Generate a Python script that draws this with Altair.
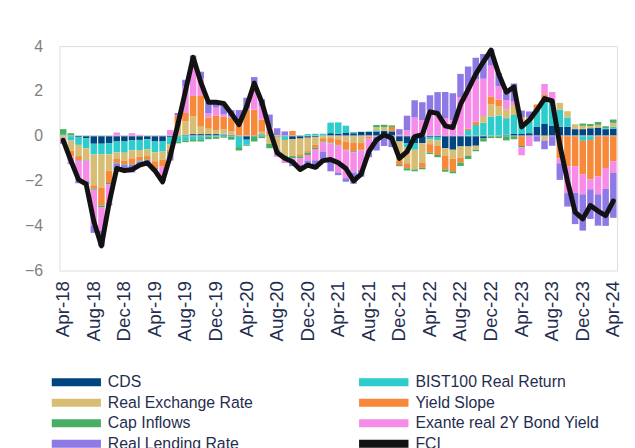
import altair as alt
import pandas as pd

# ---------------- data ----------------
mon_names = ["Jan", "Feb", "Mar", "Apr", "May", "Jun", "Jul", "Aug", "Sep", "Oct", "Nov", "Dec"]
months = [f"{mon_names[(3 + k) % 12]}-{18 + (3 + k) // 12}" for k in range(73)]  # Apr-18 .. Apr-24
tick_labels = months[::4]

series = ["CDS", "BIST100 Real Return", "Real Exchange Rate", "Yield Slope",
          "Cap Inflows", "Exante real 2Y Bond Yield", "Real Lending Rate"]
colors = ["#004481", "#2DCCCD", "#D8BE75", "#F7893B", "#48AE64", "#F78BE8", "#8F7AE5"]
fci_name = "FCI"
fci_color = "#121212"
# legend reading order (filled column by column: left column, then right column)
legend_order = ["CDS", "Real Exchange Rate", "Cap Inflows", "Real Lending Rate",
                "BIST100 Real Return", "Yield Slope", "Exante real 2Y Bond Yield", "FCI"]

cds = [0.00, -0.03, -0.05, -0.10, -0.35, -0.35, -0.32, -0.25, -0.25, -0.20, -0.18, -0.15,
       -0.25, -0.25, -0.05, 0.02, 0.05, 0.08, 0.08, 0.08, 0.08, 0.05, 0.05, -0.03,
       -0.17, 0.02, 0.03, 0.03, -0.03, -0.03, -0.15, -0.12, -0.08, -0.05, 0.00, 0.12,
       0.10, 0.15, 0.12, 0.18, 0.18, 0.20, 0.22, 0.20, -0.25, -0.32, -0.32, -0.32,
       -0.07, -0.05, -0.55, -0.62, -0.47, -0.47, -0.44, -0.10, 0.00, 0.02, 0.05, 0.08,
       0.08, 0.12, 0.40, 0.53, 0.44, 0.41, 0.41, 0.30, 0.30, 0.34, 0.37, 0.30, 0.32]
bist = [0.05, -0.18, -0.35, -0.45, -0.48, -0.48, -0.50, -0.48, -0.50, -0.45, -0.45, -0.45,
        -0.48, -0.45, -0.32, -0.25, -0.20, -0.15, -0.15, -0.05, -0.03, 0.05, -0.05, -0.47,
        -0.22, 0.00, 0.05, 0.02, 0.02, -0.15, 0.00, 0.03, 0.08, 0.10, 0.10, 0.47,
        0.50, 0.30, 0.05, 0.00, 0.02, 0.05, 0.02, 0.02, 0.00, -0.20, -0.30, 0.00,
        -0.08, -0.15, 0.00, 0.00, 0.00, 0.26, 0.48, 0.59, 0.85, 0.88, 0.74, 0.85,
        0.50, 0.50, 0.80, 1.13, 1.07, 0.76, 0.41, 0.00, -0.22, -0.18, 0.00, 0.03, 0.08]
rer = [-0.10, -0.45, -0.50, -0.50, -1.37, -1.47, -0.74, -0.30, -0.37, -0.35, -0.30, -0.30,
       -0.40, -0.37, -0.25, 0.40, 0.60, 0.80, 0.33, 0.24, 0.18, 0.20, 0.15, 0.00,
       0.00, 0.00, 0.10, -0.35, -0.60, -0.70, -0.75, -0.70, -0.60, -0.35, -0.10, -0.10,
       -0.15, -0.25, -0.32, -0.32, -0.05, 0.12, 0.16, 0.00, -0.85, -0.70, -0.88, -0.88,
       -0.22, -0.25, -0.35, -0.40, -0.50, -0.41, -0.18, 0.30, 0.56, 0.41, 0.40, 0.45,
       0.25, 0.22, 0.00, -0.20, 0.00, 0.30, 0.28, 0.22, 0.15, 0.10, 0.12, 0.00, 0.18]
yslope = [-0.05, -0.25, -0.18, -0.02, -0.15, -0.80, -0.54, -0.17, -0.15, -0.25, -0.17, -0.15,
          -0.30, -0.30, -0.10, 0.50, 0.37, 0.90, 1.40, 0.50, 0.65, 0.55, 0.60, 0.70,
          1.15, 1.15, 0.55, 0.15, 0.02, 0.00, 0.22, -0.10, -0.07, -0.12, -0.15, -0.20,
          -0.25, -0.37, -0.37, -0.30, -0.05, 0.02, 0.00, 0.18, -0.20, -0.22, 0.00, -0.22,
          -0.37, -0.40, -0.60, -0.55, -0.22, 0.07, 0.15, 0.00, 0.35, 0.30, 0.00, 0.00,
          -0.45, 0.00, 0.20, 0.20, 0.00, -1.00, -1.35, -1.35, -1.50, -1.76, -1.80, -1.43, -1.13]
cap = [0.25, 0.12, -0.03, -0.03, -0.05, -0.07, -0.05, -0.02, -0.03, -0.03, -0.03, -0.03,
       -0.05, 0.00, -0.08, -0.08, -0.08, -0.10, -0.10, -0.10, -0.10, -0.08, -0.12, -0.15,
       -0.05, -0.25, -0.10, -0.20, -0.10, -0.08, -0.10, -0.08, -0.10, -0.06, -0.05, -0.03,
       -0.03, -0.02, -0.04, -0.02, 0.00, 0.10, 0.10, 0.07, -0.05, -0.10, -0.07, -0.07,
       -0.07, -0.10, -0.10, -0.10, -0.15, -0.15, -0.07, -0.15, -0.10, -0.10, -0.20, -0.15,
       -0.06, 0.00, 0.00, 0.00, 0.00, 0.00, 0.00, 0.00, 0.10, 0.09, 0.13, 0.10, 0.15]
exante = [-0.10, -0.30, -0.90, -0.90, -1.60, -1.05, -0.85, 0.15, 0.00, 0.12, 0.05, 0.00,
          -0.10, -0.50, 0.26, 0.00, 1.18, 1.60, 0.75, 0.18, 0.35, 0.12, 0.05, 0.00,
          0.10, 1.15, 0.60, 0.20, -0.20, -0.25, -0.10, -0.30, -0.25, -0.50, -0.40, -0.80,
          -1.20, -1.25, -0.90, -0.88, -0.65, -0.05, -0.05, -0.05, 0.05, 0.25, 0.82, 0.70,
          1.15, 0.90, 0.80, 0.70, 1.73, 1.76, 1.90, 1.66, 1.37, 0.60, 0.41, 0.15,
          -0.35, -0.45, 0.00, 0.45, 0.45, -0.22, -1.20, -1.18, -0.88, -0.44, -0.80, -0.93, -0.52]
rlr = [-0.10, -0.05, -0.10, -0.15, -0.32, -0.70, -0.10, -0.30, -0.20, -0.35, -0.15, -0.10,
       0.00, -0.15, -0.30, 0.10, 0.30, 0.20, 0.30, 0.50, 0.25, 0.40, 0.30, 0.45,
       0.45, 0.30, 0.30, 0.55, 0.30, 0.20, -0.25, -0.15, -0.22, -0.40, -0.45, -0.45,
       -0.12, -0.15, -0.50, -0.30, -0.20, -0.60, -0.40, -0.45, 0.25, 0.65, 0.77, 0.80,
       0.66, 1.05, 1.15, 1.20, 1.03, 1.00, 0.95, 1.10, 0.73, 0.60, 0.45, 0.80,
       0.30, 0.25, -0.25, -0.40, -0.44, -0.74, -0.60, -1.40, -1.62, -1.32, -1.40, -1.65, -2.00]
fci = [-0.20, -1.10, -1.95, -2.15, -3.80, -4.90, -3.00, -1.45, -1.55, -1.50, -1.30, -1.20,
       -1.55, -2.05, -0.90, 0.50, 2.00, 3.50, 2.40, 1.50, 1.50, 1.45, 1.00, 0.50,
       1.30, 2.35, 1.50, 0.30, -0.75, -1.00, -1.15, -1.50, -1.30, -1.40, -1.10, -1.05,
       -1.20, -1.45, -2.00, -1.70, -0.70, -0.18, 0.05, -0.10, -1.00, -0.70, -0.03, 0.05,
       1.07, 1.00, 0.45, 0.37, 1.40, 2.06, 2.75, 3.30, 3.82, 2.76, 1.95, 2.18,
       0.40, 0.70, 1.15, 1.66, 1.56, -0.40, -2.00, -3.40, -3.70, -3.10, -3.35, -3.55, -2.90]

y_ticks = [-6, -4, -2, 0, 2, 4]

# ---------------- tables ----------------
comp_values = [cds, bist, rer, yslope, cap, exante, rlr]
rows = []
for k, (name, vals) in enumerate(zip(series, comp_values)):
    for m, v in zip(months, vals):
        rows.append({"month": m, "series": name, "value": v, "order": k})
bars_df = pd.DataFrame(rows)
fci_df = pd.DataFrame({"month": months, "FCI": fci})
zero_df = pd.DataFrame({"z": [0]})

color_of = dict(zip(series + [fci_name], colors + [fci_color]))

FONT = "Liberation Sans"
NAVY = "#1F2D4F"

x_enc = alt.X(
    "month:N", sort=months,
    scale=alt.Scale(paddingInner=0.15, paddingOuter=0.075),
    axis=alt.Axis(values=tick_labels, labelAngle=-90, title=None, ticks=False, domain=False,
                  labelPadding=10, labelFontSize=19, labelColor=NAVY, labelFont=FONT, grid=False),
)
y_scale = alt.Scale(domain=[-6, 4], nice=False, zero=False)

bars = alt.Chart(bars_df).mark_bar().encode(
    x=x_enc,
    y=alt.Y("value:Q", stack="zero", scale=y_scale,
            axis=alt.Axis(values=y_ticks, title=None, ticks=False, domain=False, grid=False,
                          labelPadding=17, labelFontSize=16, labelColor="#808080", labelFont=FONT,
                          minExtent=46, maxExtent=46)),
    color=alt.Color(
        "series:N",
        scale=alt.Scale(domain=legend_order, range=[color_of[s] for s in legend_order]),
        legend=alt.Legend(
            title=None, orient="none", legendX=-8, legendY=331, columns=2,
            symbolType="M-1,-0.16H1V0.16H-1Z", symbolSize=2500, symbolStrokeWidth=0,
            symbolOffset=0, labelOffset=7, clipHeight=18, rowPadding=2.7, columnPadding=107,
            labelFontSize=16, labelFont=FONT, labelColor=NAVY, padding=0, labelLimit=300,
        ),
    ),
    order=alt.Order("order:Q", sort="ascending"),
)

zero_rule = alt.Chart(zero_df).mark_rule(color="#C8C8C8", strokeWidth=1).encode(
    y=alt.Y("z:Q", scale=y_scale)
)

line = alt.Chart(fci_df).mark_line(color=fci_color, strokeWidth=5, strokeJoin="round",
                                   strokeCap="round").encode(
    x=alt.X("month:N", sort=months),
    y=alt.Y("FCI:Q", scale=y_scale),
)

chart = alt.layer(bars, zero_rule, line).properties(
    width=564, height=227,
    padding={"left": 6, "top": 28, "right": 4, "bottom": 0},
).configure_view(stroke=None).configure(background="white")

chart.save("out.html", embed_options={"renderer": "svg", "actions": False})
